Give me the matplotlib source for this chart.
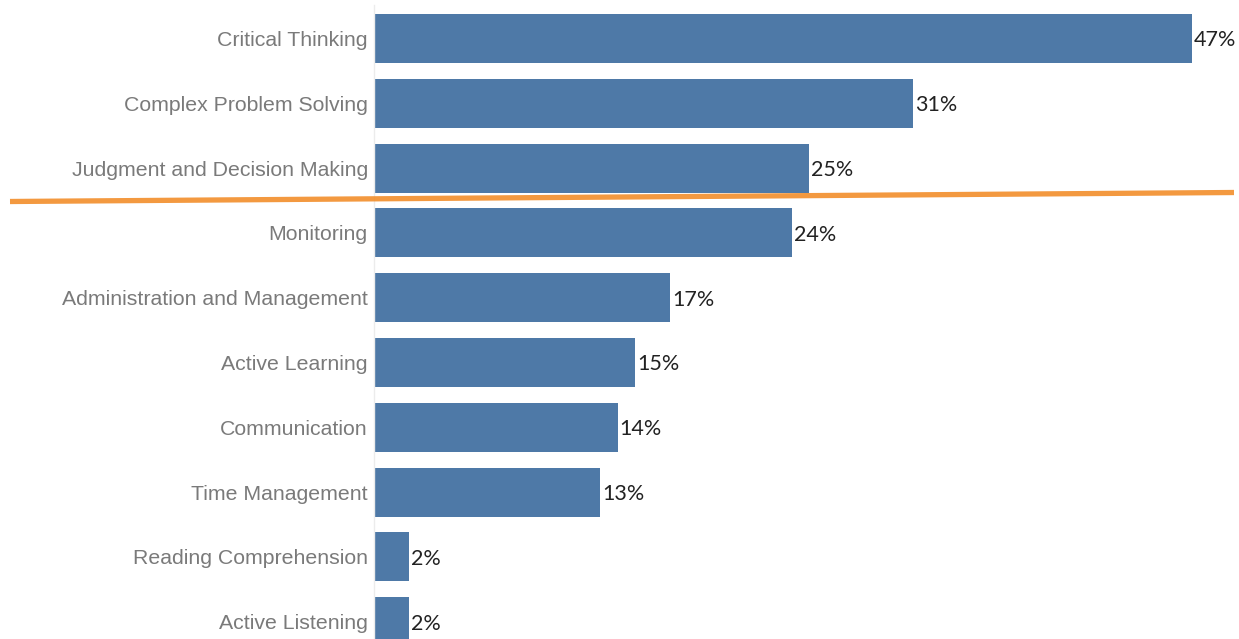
import matplotlib.pyplot as plt
from matplotlib.lines import Line2D

# skill shares shown as horizontal bars
skills = ["Critical Thinking", "Complex Problem Solving", "Judgment and Decision Making",
          "Monitoring", "Administration and Management", "Active Learning",
          "Communication", "Time Management", "Reading Comprehension", "Active Listening"]
shares = [47, 31, 25, 24, 17, 15, 14, 13, 2, 2]

W, H = 1239, 639
fig = plt.figure(figsize=(W / 100, H / 100), dpi=100)
ax = fig.add_axes([374 / W, 0, 865 / W, 1])

pos = list(range(len(skills)))
ax.barh(pos, shares, height=0.756, color="#4e79a7")

for y, v in zip(pos, shares):
    ax.text(v + 0.12, y + 0.03, f"{v}%", va="center", ha="left",
            fontsize=15.5, color="#222222", family="Lato")

ax.set_xlim(0, 865 / 17.4)
ax.set_ylim((H - 38.5) / 64.8, -38.5 / 64.8)
ax.set_yticks(pos)
ax.set_yticklabels(skills, fontsize=15.3, color="#7a7a7a", family="Liberation Sans")
ax.tick_params(axis="y", length=0, pad=4.5)
ax.set_xticks([])

for side in ["top", "right", "bottom"]:
    ax.spines[side].set_visible(False)
ax.spines["left"].set_color("#ececec")
ax.spines["left"].set_linewidth(1)
ax.spines["left"].set_bounds(9.5, -0.52)

# orange divider below the top three
fig.add_artist(Line2D([10 / W, 1234 / W], [1 - 201.5 / H, 1 - 192.5 / H],
                      transform=fig.transFigure, color="#f28e2b", linewidth=3.8,
                      alpha=0.9, solid_capstyle="butt"))

fig.savefig("out.png", dpi=100)
